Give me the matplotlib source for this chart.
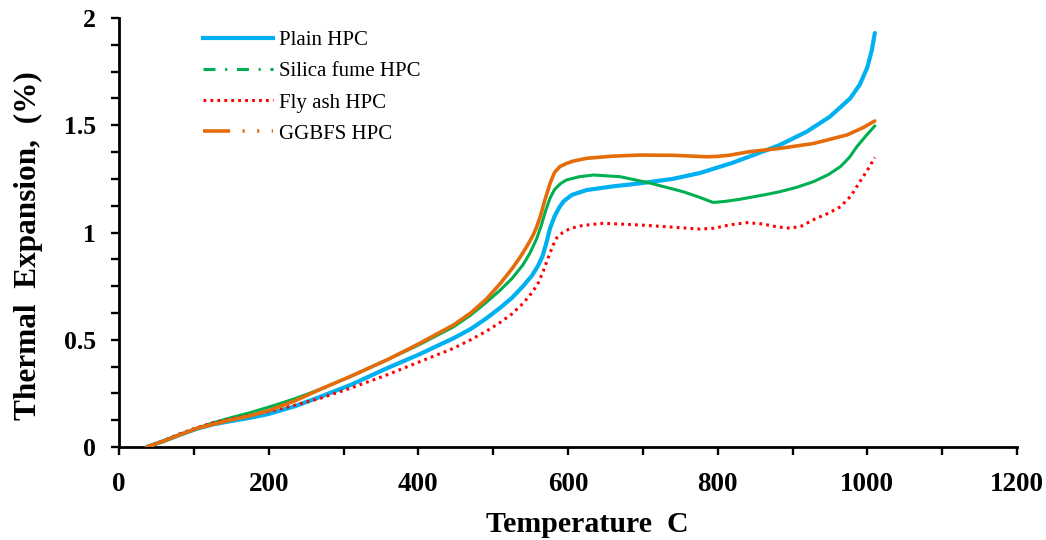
import matplotlib
matplotlib.use("Agg")
import matplotlib.pyplot as plt
from matplotlib.lines import Line2D
from matplotlib.ticker import MultipleLocator, FixedLocator, FixedFormatter

# Thermal expansion of high-performance concrete mixes vs temperature
plain_t = [37, 60, 80, 104, 125, 148, 175, 200, 235, 269, 310, 358, 400, 447, 470,
           491, 509, 525, 540, 552, 560, 566, 571, 576, 582, 588, 594, 605, 625, 660,
           696, 740, 776, 820, 866, 883, 919, 950, 977, 990, 1000, 1006, 1010]
plain_y = [0, 0.028, 0.055, 0.085, 0.105, 0.12, 0.136, 0.154, 0.19, 0.234, 0.29, 0.367,
           0.43, 0.507, 0.55, 0.60, 0.648, 0.695, 0.75, 0.80, 0.845, 0.89, 0.95, 1.02,
           1.075, 1.115, 1.145, 1.175, 1.198, 1.215, 1.229, 1.25, 1.277, 1.325, 1.385,
           1.408, 1.47, 1.54, 1.625, 1.69, 1.77, 1.85, 1.93]

silica_t = [37, 60, 80, 104, 125, 148, 175, 202, 235, 269, 310, 358, 400, 447, 470,
            491, 509, 525, 540, 549, 558, 564, 570, 576, 582, 590, 598, 615, 634, 670,
            710, 754, 775, 794, 810, 830, 866, 883, 905, 928, 948, 964, 976, 986, 998,
            1010]
silica_y = [0, 0.028, 0.055, 0.087, 0.112, 0.135, 0.16, 0.188, 0.225, 0.269, 0.33,
            0.406, 0.475, 0.56, 0.615, 0.675, 0.73, 0.785, 0.85, 0.903, 0.97, 1.03,
            1.10, 1.16, 1.20, 1.228, 1.245, 1.26, 1.268, 1.26, 1.23, 1.19, 1.165, 1.14,
            1.145, 1.155, 1.178, 1.19, 1.21, 1.237, 1.27, 1.307, 1.35, 1.40, 1.45, 1.497]

flyash_t = [37, 60, 80, 104, 125, 148, 175, 200, 235, 269, 310, 358, 400, 447, 470,
            491, 509, 525, 540, 552, 560, 567, 574, 580, 585, 593, 603, 620, 647, 696,
            740, 776, 795, 815, 839, 860, 880, 897, 912, 930, 948, 964, 978, 990, 1000,
            1010]
flyash_y = [0, 0.03, 0.06, 0.09, 0.112, 0.13, 0.148, 0.165, 0.195, 0.227, 0.275, 0.336,
            0.395, 0.46, 0.50, 0.54, 0.58, 0.62, 0.67, 0.72, 0.763, 0.82, 0.887, 0.94,
            0.975, 1.0, 1.019, 1.033, 1.043, 1.035, 1.025, 1.016, 1.02, 1.035, 1.046,
            1.04, 1.026, 1.02, 1.03, 1.063, 1.09, 1.12, 1.17, 1.237, 1.29, 1.35]

ggbfs_t = [37, 60, 80, 104, 125, 148, 175, 200, 235, 269, 310, 358, 400, 447, 470,
           491, 509, 525, 536, 545, 553, 558, 563, 569, 576, 582, 589, 598, 607, 625,
           660, 696, 740, 786, 800, 815, 843, 883, 928, 973, 995, 1010]
ggbfs_y = [0, 0.028, 0.055, 0.087, 0.105, 0.125, 0.145, 0.17, 0.215, 0.269, 0.33,
           0.406, 0.48, 0.569, 0.625, 0.69, 0.76, 0.83, 0.885, 0.935, 0.985, 1.025,
           1.075, 1.15, 1.229, 1.28, 1.307, 1.322, 1.333, 1.346, 1.356, 1.361, 1.36,
           1.353, 1.355, 1.36, 1.377, 1.392, 1.415, 1.455, 1.49, 1.52]

labels = ["Plain HPC", "Silica fume HPC", "Fly ash HPC", "GGBFS HPC"]
y_tick_values = [0, 0.5, 1, 1.5, 2]
y_tick_labels = ["0", "0.5", "1", "1.5", "2"]
x_tick_values = [0, 200, 400, 600, 800, 1000, 1200]
x_tick_labels = ["0", "200", "400", "600", "800", "1000", "1200"]

BLUE = "#00B0F0"
GREEN = "#00B050"
RED = "#FF0000"
ORANGE = "#E46C0A"

plt.rcParams["lines.scale_dashes"] = False
serif = "Liberation Serif"

fig = plt.figure(figsize=(10.46, 5.40), dpi=100)
ax = fig.add_axes([119 / 1046, 1 - 447 / 540, 898 / 1046, 429 / 540])

ax.plot(plain_t, plain_y, color=BLUE, lw=3.0, solid_capstyle="round",
        solid_joinstyle="round", zorder=3)
ax.plot(silica_t, silica_y, color=GREEN, lw=2.2, solid_capstyle="round",
        solid_joinstyle="round", zorder=4)
ax.plot(flyash_t, flyash_y, color=RED, lw=2.2, linestyle=(0, (2.0, 3.0)),
        dash_capstyle="butt", zorder=5)
ax.plot(ggbfs_t, ggbfs_y, color=ORANGE, lw=2.6, solid_capstyle="round",
        solid_joinstyle="round", zorder=6)

ax.set_xlim(0, 1200)
ax.set_ylim(0, 2)

for s in ("top", "right"):
    ax.spines[s].set_visible(False)
for s in ("left", "bottom"):
    ax.spines[s].set_linewidth(2.0)
    ax.spines[s].set_color("black")

ax.xaxis.set_major_locator(FixedLocator(x_tick_values))
ax.xaxis.set_major_formatter(FixedFormatter(x_tick_labels))
ax.xaxis.set_minor_locator(MultipleLocator(100))
ax.yaxis.set_major_locator(FixedLocator(y_tick_values))
ax.yaxis.set_major_formatter(FixedFormatter(y_tick_labels))
ax.yaxis.set_minor_locator(MultipleLocator(0.125))

ax.tick_params(axis="both", which="both", direction="out", length=5.8, width=1.7,
               color="black")
ax.tick_params(axis="x", which="major", pad=12)
ax.tick_params(axis="y", which="major", pad=11)
for lab in ax.get_xticklabels():
    lab.set_fontfamily(serif)
    lab.set_fontweight("bold")
    lab.set_fontsize(19.5)
for lab in ax.get_yticklabels():
    lab.set_fontfamily(serif)
    lab.set_fontweight("bold")
    lab.set_fontsize(18.5)

ax.set_xlabel("Temperature  C", fontfamily=serif, fontweight="bold", fontsize=21.5)
ax.xaxis.set_label_coords(0.522, -0.150)
ax.set_ylabel("Thermal  Expansion,  (%)", fontfamily=serif, fontweight="bold",
              fontsize=22.5)
ax.yaxis.set_label_coords(-0.085, 0.47)

handles = [
    Line2D([], [], color=BLUE, lw=3.0),
    Line2D([], [], color=GREEN, lw=2.2, dashes=[8.6, 7.0, 1.5, 7.0],
           dash_capstyle="butt"),
    Line2D([], [], color=RED, lw=2.2, dashes=[2.0, 3.0], dash_capstyle="butt"),
    Line2D([], [], color=ORANGE, lw=2.6, dashes=[19.5, 9.0, 1.5, 9.0, 1.5, 9.0],
           dash_capstyle="butt"),
]
ax.legend(handles, labels, loc="upper left", bbox_to_anchor=(0.0935, 0.970),
          frameon=False, borderpad=0, borderaxespad=0, handlelength=3.36,
          handletextpad=0.3, labelspacing=0.55,
          prop={"family": serif, "size": 15})

fig.savefig("out.png", dpi=100)
